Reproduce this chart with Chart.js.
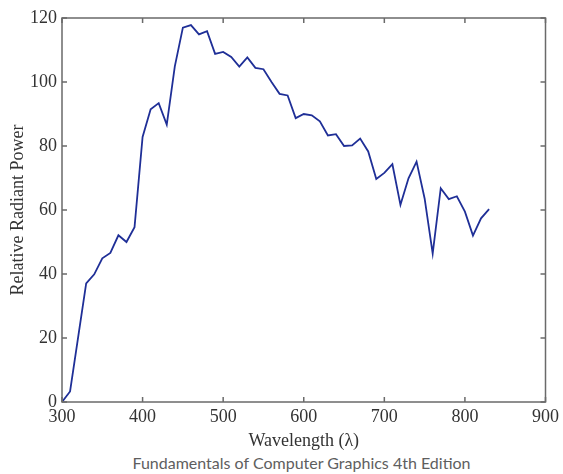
<!DOCTYPE html>
<html>
<head>
<meta charset="utf-8">
<script src="https://cdn.jsdelivr.net/npm/chart.js@4"></script>
<style>
  html, body { margin: 0; padding: 0; background: #fff; }
  #wrap { width: 563px; height: 474px; }
  #caption {
    width: 523px; height: 23px; padding-left: 40px;
    text-align: center; line-height: 23px;
    font-family: Lato, 'Open Sans', sans-serif; font-size: 16px; color: #5e5e5e;
    white-space: nowrap;
  }
</style>
</head>
<body>
<div id="wrap">
  <canvas id="spectrumChart" width="563" height="451"></canvas>
  <div id="caption">Fundamentals of Computer Graphics 4th Edition</div>
</div>
<script>
// wavelengths (nm), 10 nm steps
const wavelengths = [300, 310, 320, 330, 340, 350, 360, 370, 380, 390,
    400, 410, 420, 430, 440, 450, 460, 470, 480, 490,
    500, 510, 520, 530, 540, 550, 560, 570, 580, 590,
    600, 610, 620, 630, 640, 650, 660, 670, 680, 690,
    700, 710, 720, 730, 740, 750, 760, 770, 780, 790,
    800, 810, 820, 830];

// relative radiant power
const radiantPower = [0.0, 3.3, 20.2, 37.1, 39.9, 44.9, 46.6, 52.1, 50.0, 54.6,
    82.8, 91.5, 93.4, 86.7, 104.9, 117.0, 117.8, 114.9, 115.9, 108.8,
    109.4, 107.8, 104.8, 107.7, 104.4, 104.0, 100.0, 96.3, 95.8, 88.7,
    90.0, 89.6, 87.7, 83.3, 83.7, 80.0, 80.2, 82.3, 78.3, 69.7,
    71.6, 74.3, 61.6, 69.9, 75.1, 63.6, 46.4, 66.8, 63.4, 64.3,
    59.5, 52.0, 57.4, 60.3];

const xTicks = [300, 400, 500, 600, 700, 800, 900];
const yTicks = [0, 20, 40, 60, 80, 100, 120];

const serif = "'Liberation Serif', 'Times New Roman', serif";

// 테두리 + 안쪽 눈금
const framePlugin = {
    id: 'frame',
    afterDatasetsDraw(chart) {
        const {ctx, chartArea: a, scales: {x, y}} = chart;
        const len = 5;
        ctx.save();
        ctx.strokeStyle = '#6a6a6a';
        ctx.lineWidth = 1.5;
        ctx.strokeRect(a.left, a.top, a.right - a.left, a.bottom - a.top);
        ctx.beginPath();
        xTicks.forEach(v => {
            const px = x.getPixelForValue(v);
            ctx.moveTo(px, a.bottom); ctx.lineTo(px, a.bottom - len);
            ctx.moveTo(px, a.top); ctx.lineTo(px, a.top + len);
        });
        yTicks.forEach(v => {
            const py = y.getPixelForValue(v);
            ctx.moveTo(a.left, py); ctx.lineTo(a.left + len, py);
            ctx.moveTo(a.right, py); ctx.lineTo(a.right - len, py);
        });
        ctx.stroke();
        ctx.restore();
    }
};

new Chart(document.getElementById('spectrumChart'), {
    type: 'line',
    data: {
        datasets: [{
            data: wavelengths.map((w, i) => ({x: w, y: radiantPower[i]})),
            borderColor: '#1f2f97',
            borderWidth: 1.8,
            pointRadius: 0,
            tension: 0,
            fill: false
        }]
    },
    options: {
        responsive: false,
        animation: false,
        layout: { padding: { top: 18, right: 16, left: 0, bottom: 0 } },
        plugins: {
            legend: { display: false },
            tooltip: { enabled: false },
            title: { display: false }
        },
        scales: {
            x: {
                type: 'linear',
                min: 300,
                max: 900,
                afterBuildTicks: s => { s.ticks = xTicks.map(v => ({value: v})); },
                afterFit: s => { s.height = 49; },
                grid: { display: false, drawTicks: false },
                border: { display: false },
                ticks: { color: '#333', padding: 4, maxRotation: 0, font: { family: serif, size: 18 } },
                title: {
                    display: true,
                    text: 'Wavelength (λ)',
                    color: '#333',
                    font: { family: serif, size: 18, lineHeight: 1.2 },
                    padding: { top: 0, bottom: -1 }
                }
            },
            y: {
                min: 0,
                max: 120,
                afterBuildTicks: s => { s.ticks = yTicks.map(v => ({value: v})); },
                afterFit: s => { s.width = 62; },
                grid: { display: false, drawTicks: false },
                border: { display: false },
                ticks: { color: '#333', padding: 5, font: { family: serif, size: 18 } },
                title: {
                    display: true,
                    text: 'Relative Radiant Power',
                    color: '#333',
                    font: { family: serif, size: 18, lineHeight: 1.2 },
                    padding: { top: 7, bottom: 0 }
                }
            }
        }
    },
    plugins: [framePlugin]
});
</script>
</body>
</html>
